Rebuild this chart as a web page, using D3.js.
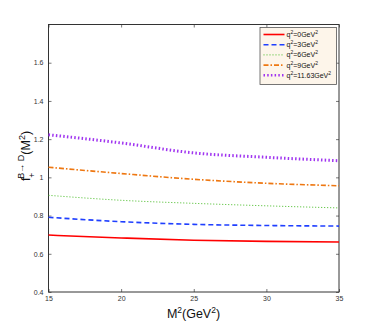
<!DOCTYPE html>
<html><head><meta charset="utf-8">
<script src="https://cdn.jsdelivr.net/npm/d3@7"></script>
<style>body{margin:0;background:#fff}svg{display:block}</style>
</head><body><svg id="c" width="374" height="329"></svg>
<script>
const xVals = [15, 20, 25, 30, 35];
const seriesLabels = ["0", "3", "6", "9", "11.63"];
const q0 = [0.698, 0.683, 0.671, 0.665, 0.662];
const q3 = [0.791, 0.768, 0.754, 0.748, 0.745];
const q6 = [0.906, 0.880, 0.864, 0.851, 0.840];
const q9 = [1.053, 1.020, 0.990, 0.969, 0.956];
const q1163 = [1.223, 1.180, 1.128, 1.105, 1.087];
const xTicks = [15, 20, 25, 30, 35];
const yTicks = [0.4, 0.6, 0.8, 1, 1.2, 1.4, 1.6];

const series = [
  {vals: q0, color: "#ff0000", dash: null, w: 1.6},
  {vals: q3, color: "#1f3fff", dash: "5,3", w: 1.6},
  {vals: q6, color: "#44bb22", dash: "1,2", w: 1},
  {vals: q9, color: "#ee7711", dash: "5,2,1.5,2", w: 1.6},
  {vals: q1163, color: "#a035f0", dash: "1.5,2.2", w: 3}
];

const svg = d3.select("#c");
const L = 48.5, R = 339, T = 24.5, B = 292;
const x = d3.scaleLinear().domain([15, 35]).range([L, R]);
const y = d3.scaleLinear().domain([0.4, 1.8]).range([B, T]);

svg.append("g").attr("transform", `translate(0,${B})`)
  .call(d3.axisBottom(x).tickValues(xTicks).tickSizeInner(-3).tickSizeOuter(0).tickPadding(4).tickFormat(d3.format("d")))
  .call(g => { g.select(".domain").remove(); g.selectAll("line").attr("stroke", "#777");
    g.selectAll("text").attr("font-family", "Liberation Sans, Arial").attr("font-size", 7).attr("fill", "#333"); });
svg.append("g").attr("transform", `translate(0,${T})`)
  .call(d3.axisTop(x).tickValues(xTicks).tickSizeInner(-3).tickSizeOuter(0).tickFormat(""))
  .call(g => { g.select(".domain").remove(); g.selectAll("line").attr("stroke", "#777"); });
svg.append("g").attr("transform", `translate(${L},0)`)
  .call(d3.axisLeft(y).tickValues(yTicks).tickSizeInner(-3).tickSizeOuter(0).tickPadding(5).tickFormat(d => d3.format("")(+d.toFixed(1))))
  .call(g => { g.select(".domain").remove(); g.selectAll("line").attr("stroke", "#777");
    g.selectAll("text").attr("font-family", "Liberation Sans, Arial").attr("font-size", 7).attr("fill", "#333"); });
svg.append("g").attr("transform", `translate(${R},0)`)
  .call(d3.axisRight(y).tickValues(yTicks).tickSizeInner(-3).tickSizeOuter(0).tickFormat(""))
  .call(g => { g.select(".domain").remove(); g.selectAll("line").attr("stroke", "#777"); });

svg.append("rect").attr("x", L).attr("y", T).attr("width", R - L).attr("height", B - T)
  .attr("fill", "none").attr("stroke", "#333").attr("stroke-width", 1);

const line = d3.line().x((d, i) => x(xVals[i])).y(d => y(d)).curve(d3.curveMonotoneX);
series.forEach(s => {
  svg.append("path").attr("d", line(s.vals)).attr("fill", "none")
    .attr("stroke", s.color).attr("stroke-width", s.w)
    .attr("stroke-dasharray", s.dash);
});

const lg = svg.append("g");
lg.append("rect").attr("x", 260).attr("y", 27.5).attr("width", 76.5).attr("height", 57)
  .attr("fill", "#fdf5ea").attr("stroke", "#555").attr("stroke-width", 0.8);
series.forEach((s, i) => {
  const yy = 34.5 + i * 10.2;
  lg.append("line").attr("x1", 263.5).attr("x2", 284.5).attr("y1", yy).attr("y2", yy)
    .attr("stroke", s.color).attr("stroke-width", s.w === 3 ? 2.5 : s.w).attr("stroke-dasharray", s.dash);
  const t = lg.append("text").attr("x", 286.5).attr("y", yy + 2.5)
    .attr("font-family", "Liberation Sans, Arial").attr("font-size", 7).attr("fill", "#111");
  t.append("tspan").text("q");
  t.append("tspan").attr("dy", -3).attr("font-size", 5).text("2");
  t.append("tspan").attr("dy", 3).text("=" + seriesLabels[i] + "GeV");
  t.append("tspan").attr("dy", -3).attr("font-size", 5).text("2");
});

const xl = svg.append("text").attr("x", 193.5).attr("y", 318).attr("text-anchor", "middle")
  .attr("font-family", "Liberation Sans, Arial").attr("font-size", 12.5).attr("fill", "#111");
xl.append("tspan").text("M");
xl.append("tspan").attr("dy", -5).attr("font-size", 8.5).text("2");
xl.append("tspan").attr("dy", 5).text("(GeV");
xl.append("tspan").attr("dy", -5).attr("font-size", 8.5).text("2");
xl.append("tspan").attr("dy", 5).text(")");

const yl = svg.append("text").attr("transform", "translate(30,156) rotate(-90)").attr("text-anchor", "middle")
  .attr("font-family", "Liberation Sans, Arial").attr("font-size", 12.5).attr("fill", "#111");
yl.append("tspan").text("f");
yl.append("tspan").attr("dy", 5).attr("font-size", 8.5).text("+");
yl.append("tspan").attr("dx", -6).attr("dy", -11).attr("font-size", 9).text("B\u2192 D");
yl.append("tspan").attr("dy", 6).text("(M");
yl.append("tspan").attr("dy", -5).attr("font-size", 9).text("2");
yl.append("tspan").attr("dy", 5).text(")");
</script></body></html>
